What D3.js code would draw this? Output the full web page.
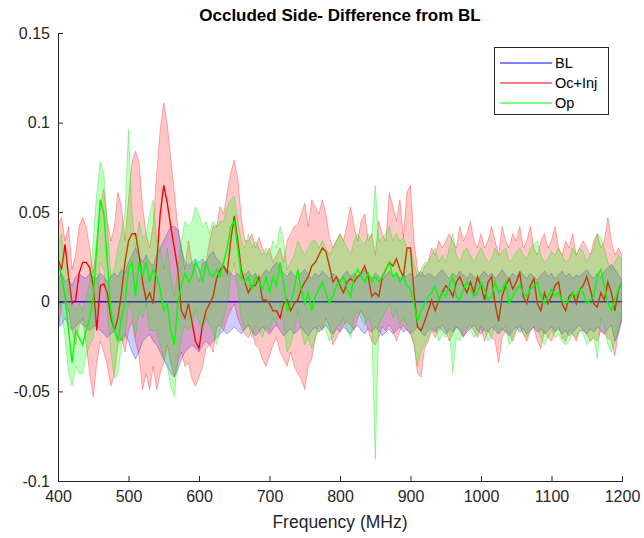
<!DOCTYPE html>
<html><head><meta charset="utf-8">
<script src="https://cdn.jsdelivr.net/npm/d3@7"></script>
<style>body{margin:0;background:#fff;font-family:"Liberation Sans",Arial,sans-serif;}</style>
</head><body>
<svg id="c" width="644" height="538"></svg>
<script>
const freqStart = 400, freqStop = 1200, freqStep = 5;
const freq = d3.range(freqStart, freqStop + 1, freqStep);
const xTicks = [400,500,600,700,800,900,1000,1100,1200];
const yTicks = [-0.1,-0.05,0,0.05,0.1,0.15];
const yTickLabels = ["-0.1","-0.05","0","0.05","0.1","0.15"];
const seriesNames = ["BL","Oc+Inj","Op"];

const blMean = [0,0,0,0,0,0,0,0,0,0, 0,0,0,0,0,0,0,0,0,0, 0,0,0,0,0,0,0,0,0,0, 0,0,0,0,0,0,0,0,0,0,
 0,0,0,0,0,0,0,0,0,0, 0,0,0,0,0,0,0,0,0,0, 0,0,0,0,0,0,0,0,0,0, 0,0,0,0,0,0,0,0,0,0,
 0,0,0,0,0,0,0,0,0,0, 0,0,0,0,0,0,0,0,0,0, 0,0,0,0,0,0,0,0,0,0, 0,0,0,0,0,0,0,0,0,0,
 0,0,0,0,0,0,0,0,0,0, 0,0,0,0,0,0,0,0,0,0, 0,0,0,0,0,0,0,0,0,0, 0,0,0,0,0,0,0,0,0,0, 0];
const blHi = [
 0.013,0.016,0.011,0.013,0.009,0.014,0.016,0.014,0.013,0.016,
 0.014,0.013,0.016,0.014,0.011,0.014,0.016,0.014,0.018,0.016,
 0.022,0.026,0.030,0.026,0.022,0.026,0.022,0.020,0.026,0.030,
 0.034,0.038,0.042,0.042,0.040,0.030,0.022,0.020,0.022,0.024,
 0.022,0.024,0.022,0.026,0.028,0.024,0.022,0.020,0.018,0.016,
 0.014,0.016,0.013,0.015,0.017,0.014,0.016,0.012,0.015,0.018,
 0.016,0.020,0.022,0.019,0.016,0.014,0.017,0.015,0.013,0.016,
 0.018,0.015,0.013,0.016,0.014,0.017,0.015,0.013,0.016,0.014,
 0.012,0.015,0.017,0.014,0.016,0.013,0.015,0.018,0.015,0.013,
 0.016,0.014,0.012,0.015,0.017,0.014,0.016,0.013,0.015,0.014,
 0.016,0.013,0.015,0.017,0.014,0.016,0.015,0.013,0.016,0.018,
 0.015,0.013,0.016,0.014,0.017,0.015,0.013,0.016,0.014,0.012,
 0.015,0.017,0.014,0.016,0.013,0.015,0.018,0.015,0.013,0.016,
 0.014,0.017,0.015,0.013,0.016,0.014,0.012,0.015,0.017,0.014,
 0.016,0.013,0.015,0.017,0.014,0.016,0.013,0.015,0.014,0.016,
 0.018,0.015,0.013,0.016,0.014,0.017,0.019,0.021,0.018,0.015,
 0.012];
const blLo = [
 -0.014,-0.013,-0.009,-0.013,-0.016,-0.014,-0.011,-0.013,-0.014,-0.016,
 -0.014,-0.013,-0.016,-0.018,-0.020,-0.018,-0.016,-0.020,-0.022,-0.018,
 -0.022,-0.028,-0.032,-0.028,-0.022,-0.020,-0.018,-0.022,-0.024,-0.028,
 -0.032,-0.036,-0.040,-0.042,-0.038,-0.032,-0.028,-0.026,-0.024,-0.026,
 -0.028,-0.024,-0.022,-0.024,-0.022,-0.020,-0.018,-0.016,-0.018,-0.016,
 -0.014,-0.016,-0.018,-0.015,-0.013,-0.016,-0.019,-0.017,-0.014,-0.016,
 -0.018,-0.015,-0.013,-0.016,-0.019,-0.017,-0.015,-0.018,-0.016,-0.014,
 -0.017,-0.019,-0.016,-0.014,-0.017,-0.015,-0.013,-0.016,-0.018,-0.015,
 -0.017,-0.014,-0.016,-0.018,-0.015,-0.013,-0.016,-0.018,-0.015,-0.017,
 -0.014,-0.016,-0.019,-0.017,-0.015,-0.018,-0.016,-0.014,-0.017,-0.015,
 -0.018,-0.016,-0.014,-0.017,-0.019,-0.016,-0.015,-0.017,-0.014,-0.016,
 -0.018,-0.015,-0.017,-0.014,-0.016,-0.019,-0.017,-0.015,-0.013,-0.016,
 -0.018,-0.015,-0.017,-0.014,-0.016,-0.018,-0.015,-0.017,-0.019,-0.016,
 -0.014,-0.017,-0.015,-0.018,-0.016,-0.014,-0.017,-0.015,-0.018,-0.016,
 -0.014,-0.017,-0.015,-0.018,-0.016,-0.019,-0.017,-0.015,-0.013,-0.016,
 -0.018,-0.015,-0.017,-0.014,-0.016,-0.018,-0.015,-0.013,-0.022,-0.018,
 -0.010];

const ocMean = [
 0.024,0.018,0.032,0.014,-0.001,0.001,0.016,0.022,0.022,0.019,
 0.009,-0.016,0.009,0.010,0.005,-0.009,-0.016,-0.009,0.005,0.022,
 0.034,0.038,0.038,0.026,0.011,0.001,0.005,-0.001,0.022,0.049,
 0.065,0.055,0.042,0.030,0.018,-0.005,-0.009,-0.001,-0.011,-0.022,
 -0.026,-0.013,-0.005,-0.001,0.003,0.013,0.018,0.020,0.016,0.034,
 0.048,0.034,0.018,0.011,0.005,0.009,0.009,0.014,0.001,0.001,
 -0.001,-0.005,-0.005,-0.009,-0.001,0.001,-0.005,-0.001,0.001,0.007,
 0.011,0.014,0.020,0.022,0.026,0.030,0.028,0.020,0.011,0.014,
 0.009,0.005,0.011,0.013,0.011,0.014,0.016,0.020,0.014,0.003,
 0.005,0.003,0.014,0.018,0.022,0.020,0.024,0.018,0.014,0.030,
 0.030,0.005,-0.014,-0.016,-0.011,-0.005,0.001,-0.005,0.001,0.005,
 0.009,0.007,0.003,0.011,0.014,0.009,0.005,0.011,0.005,0.014,
 0.009,0.001,0.011,0.014,-0.001,-0.011,0.003,0.009,0.013,0.007,
 0.011,0.016,0.003,-0.001,0.009,0.013,-0.001,-0.005,0.005,-0.001,
 0.003,0.009,0.011,-0.001,-0.005,0.003,0.005,-0.001,0.007,0.009,
 0.014,0.007,-0.001,-0.003,0.005,0.001,0.011,0.005,-0.005,0.007,
 0.011];
const ocHi = [
 0.043,0.047,0.034,0.042,0.018,0.026,0.042,0.047,0.042,0.030,
 0.016,0.034,0.053,0.063,0.045,0.034,0.042,0.061,0.053,0.034,
 0.057,0.078,0.084,0.078,0.053,0.038,0.030,0.043,0.072,0.096,
 0.111,0.099,0.080,0.061,0.042,0.030,0.018,0.034,0.022,0.018,
 0.011,0.022,0.022,0.034,0.042,0.042,0.053,0.049,0.061,0.072,
 0.079,0.069,0.047,0.034,0.034,0.038,0.030,0.036,0.030,0.026,
 0.030,0.022,0.026,0.030,0.022,0.034,0.038,0.042,0.043,0.049,
 0.055,0.042,0.057,0.053,0.049,0.057,0.049,0.036,0.030,0.034,
 0.038,0.034,0.043,0.053,0.042,0.034,0.045,0.049,0.034,0.038,
 0.026,0.045,0.038,0.034,0.061,0.053,0.045,0.057,0.036,0.061,
 0.065,0.034,0.018,0.014,0.020,0.022,0.030,0.026,0.034,0.030,
 0.034,0.038,0.034,0.030,0.042,0.034,0.038,0.045,0.034,0.030,
 0.038,0.030,0.034,0.042,0.034,0.026,0.042,0.034,0.030,0.038,
 0.034,0.042,0.030,0.034,0.042,0.030,0.026,0.034,0.038,0.030,
 0.034,0.042,0.030,0.026,0.034,0.030,0.038,0.026,0.030,0.034,
 0.030,0.026,0.034,0.038,0.030,0.034,0.047,0.034,0.026,0.030,
 0.026];
const ocLo = [
 -0.018,-0.001,-0.001,-0.005,-0.016,-0.024,-0.013,-0.009,-0.024,-0.040,
 -0.053,-0.034,-0.022,-0.028,-0.036,-0.047,-0.040,-0.024,-0.020,-0.028,
 -0.016,-0.011,-0.022,-0.030,-0.049,-0.040,-0.049,-0.036,-0.049,-0.040,
 -0.034,-0.024,-0.034,-0.042,-0.034,-0.028,-0.036,-0.034,-0.043,-0.047,
 -0.042,-0.036,-0.026,-0.024,-0.028,-0.014,-0.013,-0.016,-0.009,-0.005,
 -0.001,-0.009,-0.014,-0.018,-0.020,-0.016,-0.024,-0.026,-0.032,-0.036,
 -0.030,-0.024,-0.020,-0.028,-0.032,-0.036,-0.028,-0.036,-0.040,-0.043,
 -0.049,-0.036,-0.032,-0.020,-0.013,-0.016,-0.009,-0.014,-0.024,-0.020,
 -0.016,-0.013,-0.011,-0.013,-0.016,-0.009,-0.005,-0.009,-0.016,-0.022,
 -0.024,-0.020,-0.014,-0.016,-0.013,-0.016,-0.022,-0.016,-0.013,-0.016,
 -0.018,-0.024,-0.040,-0.042,-0.026,-0.022,-0.016,-0.020,-0.016,-0.013,
 -0.016,-0.022,-0.018,-0.014,-0.016,-0.020,-0.016,-0.013,-0.016,-0.020,
 -0.014,-0.022,-0.016,-0.020,-0.022,-0.034,-0.020,-0.016,-0.018,-0.022,
 -0.016,-0.013,-0.018,-0.022,-0.016,-0.014,-0.022,-0.026,-0.016,-0.020,
 -0.022,-0.016,-0.014,-0.020,-0.022,-0.016,-0.018,-0.022,-0.016,-0.016,
 -0.018,-0.022,-0.020,-0.022,-0.016,-0.018,-0.020,-0.022,-0.030,-0.016,
 -0.009];

const opMean = [
 0.022,0.014,0.003,-0.016,-0.034,-0.016,-0.020,-0.024,-0.016,-0.009,
 0.003,0.030,0.057,0.049,0.022,-0.005,-0.016,-0.022,-0.009,-0.001,
 0.018,0.022,0.003,0.022,0.014,0.022,0.011,0.018,0.014,0.007,
 -0.005,-0.001,-0.016,-0.024,-0.001,0.009,0.016,0.011,0.014,0.022,
 0.018,0.011,0.022,0.016,0.014,0.018,0.014,0.022,0.030,0.042,
 0.045,0.030,0.014,0.011,0.014,0.007,0.014,0.011,0.007,0.014,
 0.005,0.014,0.009,0.022,0.011,-0.005,-0.001,0.007,0.018,0.007,
 -0.001,0.005,-0.005,0.003,0.007,0.011,0.005,-0.001,0.003,0.009,
 0.011,0.014,0.007,0.003,0.014,0.018,0.014,0.011,0.016,0.011,
 0.014,0.011,0.014,0.018,0.022,0.014,0.016,0.011,0.014,0.009,
 0.007,-0.001,-0.011,-0.005,-0.001,0.003,0.005,0.009,0.001,0.005,
 0.003,0.009,0.014,0.003,0.001,0.007,0.011,0.007,0.003,0.005,
 0.011,0.007,0.001,0.003,0.011,0.005,0.007,0.011,-0.001,0.003,
 0.007,0.009,0.005,0.003,0.007,0.009,0.011,0.003,-0.001,0.003,
 0.007,0.003,0.005,0.001,-0.001,0.001,0.005,0.003,0.007,0.005,
 -0.001,0.001,0.003,0.014,0.018,0.009,-0.001,-0.005,0.001,0.007,
 0.011];
const opHi = [
 0.030,0.038,0.022,0.014,-0.001,-0.005,-0.001,-0.005,0.003,0.011,
 0.034,0.061,0.078,0.072,0.042,0.014,0.018,0.030,0.038,0.049,
 0.096,0.049,0.030,0.045,0.036,0.038,0.049,0.057,0.034,0.030,
 0.018,0.030,0.014,0.003,0.018,0.034,0.045,0.042,0.045,0.053,
 0.049,0.042,0.045,0.038,0.045,0.042,0.045,0.045,0.053,0.057,
 0.059,0.045,0.034,0.030,0.038,0.030,0.034,0.030,0.026,0.030,
 0.026,0.034,0.030,0.042,0.034,0.018,0.022,0.026,0.034,0.030,
 0.026,0.030,0.034,0.034,0.030,0.034,0.030,0.026,0.030,0.034,
 0.038,0.034,0.030,0.026,0.034,0.038,0.034,0.032,0.038,0.036,
 0.065,0.034,0.036,0.038,0.042,0.034,0.038,0.034,0.036,0.030,
 0.030,0.022,0.014,0.018,0.022,0.022,0.026,0.030,0.022,0.026,
 0.022,0.030,0.038,0.026,0.022,0.028,0.030,0.026,0.022,0.026,
 0.030,0.026,0.022,0.024,0.030,0.026,0.028,0.030,0.022,0.024,
 0.028,0.030,0.026,0.024,0.030,0.032,0.034,0.026,0.022,0.024,
 0.028,0.026,0.030,0.026,0.022,0.024,0.030,0.026,0.030,0.028,
 0.022,0.026,0.030,0.038,0.036,0.030,0.022,0.018,0.022,0.026,
 0.024];
const opLo = [
 0.003,-0.005,-0.020,-0.040,-0.047,-0.036,-0.040,-0.040,-0.030,-0.024,
 -0.020,-0.005,0.022,0.018,-0.005,-0.028,-0.043,-0.040,-0.024,-0.020,
 -0.001,-0.005,-0.020,-0.005,-0.009,-0.001,-0.016,-0.016,-0.016,-0.024,
 -0.032,-0.036,-0.047,-0.053,-0.032,-0.020,-0.013,-0.016,-0.013,-0.005,
 -0.011,-0.016,-0.009,-0.013,-0.016,-0.024,-0.016,-0.009,-0.001,0.014,
 0.022,0.007,-0.009,-0.016,-0.013,-0.020,-0.013,-0.016,-0.020,-0.013,
 -0.016,-0.009,-0.013,-0.001,-0.013,-0.028,-0.024,-0.016,-0.005,-0.016,
 -0.024,-0.020,-0.026,-0.020,-0.016,-0.013,-0.016,-0.022,-0.020,-0.014,
 -0.013,-0.009,-0.016,-0.020,-0.009,-0.005,-0.009,-0.013,-0.009,-0.013,
 -0.088,-0.013,-0.009,-0.005,-0.001,-0.009,-0.005,-0.013,-0.009,-0.013,
 -0.016,-0.024,-0.036,-0.028,-0.024,-0.020,-0.016,-0.014,-0.022,-0.018,
 -0.020,-0.016,-0.040,-0.020,-0.022,-0.016,-0.014,-0.016,-0.020,-0.018,
 -0.013,-0.016,-0.022,-0.020,-0.013,-0.018,-0.016,-0.013,-0.024,-0.020,
 -0.016,-0.014,-0.018,-0.020,-0.016,-0.014,-0.013,-0.020,-0.024,-0.020,
 -0.016,-0.020,-0.018,-0.022,-0.024,-0.022,-0.018,-0.020,-0.016,-0.018,
 -0.024,-0.022,-0.020,-0.032,-0.009,-0.014,-0.024,-0.028,-0.022,-0.016,
 -0.005];

const W = 644, H = 538;
const m = {left: 58, right: 622, top: 33, bottom: 481};
const x = d3.scaleLinear().domain([400, 1200]).range([m.left, m.right]);
const y = d3.scaleLinear().domain([-0.1, 0.15]).range([m.bottom, m.top]);

const svg = d3.select("#c");
svg.append("defs").append("clipPath").attr("id","clip")
  .append("rect").attr("x", m.left).attr("y", m.top)
  .attr("width", m.right - m.left).attr("height", m.bottom - m.top);

const series = [
  {name: seriesNames[0], mean: blMean, hi: blHi, lo: blLo, col: "#0000ff", fill: "rgba(0,0,255,0.2)", edge: "rgba(0,0,255,0.3)"},
  {name: seriesNames[1], mean: ocMean, hi: ocHi, lo: ocLo, col: "#ff0000", fill: "rgba(255,0,0,0.22)", edge: "rgba(255,0,0,0.3)"},
  {name: seriesNames[2], mean: opMean, hi: opHi, lo: opLo, col: "#00ff00", fill: "rgba(0,255,0,0.25)", edge: "rgba(0,220,0,0.3)"}
];

const g = svg.append("g").attr("clip-path", "url(#clip)");
series.forEach(s => {
  const pts = freq.map((f, i) => ({f, m: s.mean[i], h: s.hi[i], l: s.lo[i]}));
  const area = d3.area().x(d => x(d.f)).y0(d => y(d.l)).y1(d => y(d.h));
  g.append("path").datum(pts).attr("d", area)
    .attr("fill", s.fill).attr("stroke", s.edge).attr("stroke-width", 1);
  g.append("path").datum(pts)
    .attr("d", d3.line().x(d => x(d.f)).y(d => y(d.m)))
    .attr("fill", "none").attr("stroke", s.col).attr("stroke-width", 1.4);
});

const axisCol = "#262626";
const xAxis = svg.append("g").attr("transform", `translate(0,${m.bottom})`)
  .call(d3.axisBottom(x).tickValues(xTicks).tickSize(-5).tickPadding(10).tickFormat(d3.format("d")));
const yAxis = svg.append("g").attr("transform", `translate(${m.left},0)`)
  .call(d3.axisLeft(y).tickValues(yTicks).tickSize(-5).tickPadding(8).tickFormat((d, i) => yTickLabels[i]));
[xAxis, yAxis].forEach(a => {
  a.select(".domain").attr("stroke", axisCol).attr("stroke-width", 1);
  a.selectAll(".tick line").attr("stroke", axisCol);
  a.selectAll(".tick text").attr("fill", axisCol)
    .style("font-family", "'Liberation Sans', Arial, sans-serif").style("font-size", "16px");
});

svg.append("text").attr("x", (m.left + m.right) / 2).attr("y", 21)
  .attr("text-anchor", "middle").style("font-weight", "bold").style("font-size", "17px")
  .attr("fill", "#000").text("Occluded Side- Difference from BL");
svg.append("text").attr("x", (m.left + m.right) / 2).attr("y", 528)
  .attr("text-anchor", "middle").style("font-size", "17.5px")
  .attr("fill", axisCol).text("Frequency (MHz)");

const lg = svg.append("g");
lg.append("rect").attr("x", 494.5).attr("y", 47.5).attr("width", 114).attr("height", 67)
  .attr("fill", "#fff").attr("stroke", axisCol).attr("stroke-width", 1);
series.forEach((s, i) => {
  const yy = 63 + i * 20;
  lg.append("line").attr("x1", 500).attr("x2", 552).attr("y1", yy).attr("y2", yy)
    .attr("stroke", s.col).attr("stroke-width", 1.2);
  lg.append("text").attr("x", 555).attr("y", yy + 5).style("font-size", "14.5px")
    .attr("fill", "#000").text(s.name);
});
</script>
</body></html>
